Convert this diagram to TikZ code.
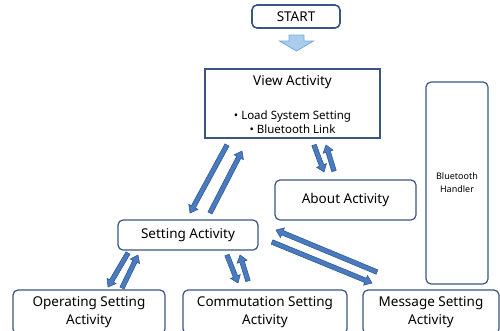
\documentclass[tikz,border=0pt]{standalone}
\usepackage{fontspec}
\setmainfont{Noto Sans}
\usetikzlibrary{calc}
\definecolor{boxline}{HTML}{3A5680}
\definecolor{arrfill}{HTML}{4A7BBE}
\definecolor{arrline}{HTML}{2F5B96}
\definecolor{startfill}{HTML}{A9CDEB}
\definecolor{startline}{HTML}{74AADB}
\tikzset{
  rbox/.style={draw=boxline, line width=1.2pt, rounded corners=5pt, fill=white, inner sep=0pt, align=center, font=\fontsize{13.5}{18}\selectfont},
  sbox/.style={draw=boxline, line width=1.2pt, fill=white, inner sep=0pt},
  txt/.style={inner sep=0pt, align=center},
  barrowst/.style={fill=arrfill, draw=arrline, line width=0.6pt, line join=miter},
}
\newcommand\barrow[2]{%
  \coordinate (hb) at ($(#2)!7pt!(#1)$);
  \filldraw[barrowst] ($(#1)!2.3pt!90:(#2)$) -- ($(hb)!2.3pt!-90:(#1)$) -- ($(hb)!5.2pt!-90:(#1)$) -- (#2) -- ($(hb)!5.2pt!90:(#1)$) -- ($(hb)!2.3pt!90:(#1)$) -- ($(#1)!2.3pt!-90:(#2)$) -- cycle;}
\begin{document}
\begin{tikzpicture}[x=1pt,y=-1pt]
\useasboundingbox (0,0) rectangle (500,330);
\clip (0,0) rectangle (500,330);
% nodes
\node[rbox, line width=1.6pt, minimum width=88pt, minimum height=23pt] (start) at (296,16.5) {START};
\node[sbox, minimum width=175pt, minimum height=69pt] (view) at (292.5,103.5) {};
\node[txt, font=\fontsize{13.5}{16}\selectfont] (viewt) at (292.5,82) {View Activity};
\node[txt, font=\fontsize{11.5}{13.5}\selectfont] (viewb) at (292.5,122) {• Load System Setting\\• Bluetooth Link};
\node[rbox, minimum width=141pt, minimum height=40pt] (about) at (345.5,200) {About Activity};
\node[rbox, minimum width=62pt, minimum height=202pt, font=\fontsize{9}{13}\selectfont] (bt) at (457,183) {Bluetooth\\Handler};
\node[rbox, minimum width=140pt, minimum height=30pt] (setting) at (188,235) {Setting Activity};
\node[rbox, minimum width=152pt, minimum height=44pt] (oper) at (89,312) {Operating Setting\\Activity};
\node[rbox, minimum width=164pt, minimum height=44pt] (comm) at (265,312) {Commutation Setting\\Activity};
\node[rbox, minimum width=136pt, minimum height=44pt] (msg) at (431,312) {Message Setting\\Activity};
% start arrow
\coordinate (sa) at (296.5,35);
\filldraw[fill=startfill, draw=startline, line width=0.8pt]
  ([xshift=-7.5pt]sa) -- ([xshift=7.5pt]sa) -- ([xshift=7.5pt,yshift=-6pt]sa) -- ([xshift=17pt,yshift=-6pt]sa)
  -- ([yshift=-16pt]sa) -- ([xshift=-17pt,yshift=-6pt]sa) -- ([xshift=-7.5pt,yshift=-6pt]sa) -- cycle;
% arrow end coordinates
\coordinate (a1s) at (227,145); \coordinate (a1e) at (190,213);
\coordinate (a2s) at (210,213); \coordinate (a2e) at (242,151);
\coordinate (a3s) at (314,145); \coordinate (a3e) at (324,172);
\coordinate (a4s) at (334,171); \coordinate (a4e) at (326,145);
\coordinate (a5s) at (377,272); \coordinate (a5e) at (276,230);
\coordinate (a6s) at (272,242); \coordinate (a6e) at (372,283);
\coordinate (a7s) at (128,253); \coordinate (a7e) at (108,287);
\coordinate (a8s) at (122,288); \coordinate (a8e) at (138,255);
\coordinate (a9s) at (227,255); \coordinate (a9e) at (238,283);
\coordinate (a10s) at (248,281); \coordinate (a10e) at (240,255);
\barrow{a1s}{a1e}
\barrow{a2s}{a2e}
\barrow{a3s}{a3e}
\barrow{a4s}{a4e}
\barrow{a5s}{a5e}
\barrow{a6s}{a6e}
\barrow{a7s}{a7e}
\barrow{a8s}{a8e}
\barrow{a9s}{a9e}
\barrow{a10s}{a10e}
\end{tikzpicture}
\end{document}
